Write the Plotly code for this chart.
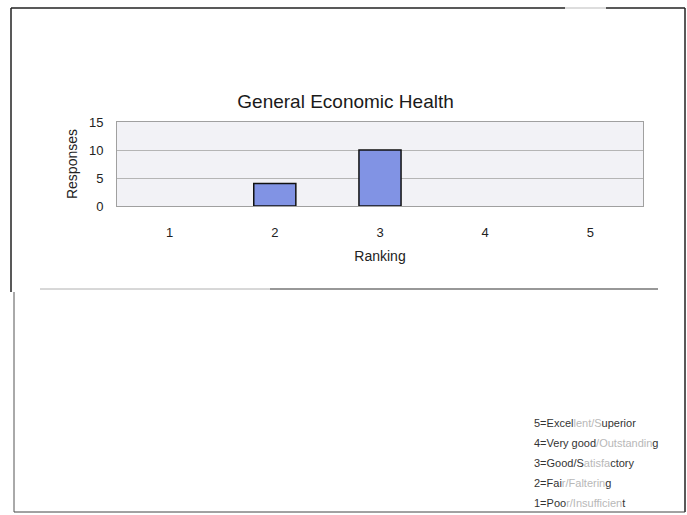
import plotly.graph_objects as go

# Survey results: number of responses per ranking
rankings = ["1", "2", "3", "4", "5"]
responses = [0, 4, 10, 0, 0]
y_ticks = [0, 5, 10, 15]

# Ranking key shown under the chart (dark part, faded part, dark tail)
key_lines = [
    ("5=Excel", "lent/S", "uperior"),
    ("4=Very good", "/Outstandin", "g"),
    ("3=Good/S", "atisfa", "ctory"),
    ("2=Fai", "r/Falterin", "g"),
    ("1=Poo", "r/Insufficien", "t"),
]

W, H = 687, 515
L, R, T, B = 117, 643, 122, 206  # plot area in pixels


def px(x):
    return (x - L) / (R - L)


def py(y):
    return (B - y) / (B - T)


fig = go.Figure(
    go.Bar(
        x=rankings,
        y=responses,
        marker=dict(
            color="#8193E4",
            line=dict(color="#111111", width=[1.5 if v > 0 else 0 for v in responses]),
        ),
        width=0.4,
    )
)

font = "Liberation Sans, Arial, sans-serif"

fig.update_layout(
    width=W,
    height=H,
    margin=dict(l=L, r=W - R, t=T, b=H - B),
    paper_bgcolor="white",
    plot_bgcolor="#F2F2F6",
    showlegend=False,
    font=dict(family=font, color="#222222", size=12),
    title=dict(
        text="General Economic Health",
        x=0.503,
        xref="container",
        y=1 - 101 / H,
        yref="container",
        yanchor="middle",
        xanchor="center",
        font=dict(size=19, color="#1a1a1a"),
    ),
    xaxis=dict(
        type="category",
        showgrid=False,
        showline=True,
        linecolor="#a0a0a0",
        ticks="",
        ticklabelstandoff=14,
        tickfont=dict(size=13),
        title=dict(text="Ranking", font=dict(size=14), standoff=12),
        mirror=True,
    ),
    yaxis=dict(
        range=[0, 15],
        tickvals=y_ticks,
        showgrid=True,
        gridcolor="#b5b5b5",
        gridwidth=1,
        showline=True,
        linecolor="#a0a0a0",
        mirror=True,
        zeroline=False,
        ticks="",
        ticklabelstandoff=10,
        tickfont=dict(size=13),
        title=dict(text="Responses", font=dict(size=14), standoff=8),
    ),
)


def seg(x0, y0, x1, y1, color, width):
    fig.add_shape(
        type="line",
        xref="paper",
        yref="paper",
        x0=px(x0),
        y0=py(y0),
        x1=px(x1),
        y1=py(y1),
        line=dict(color=color, width=width),
    )


# Page frame
seg(11, 8, 565, 8, "#222222", 1.5)
seg(565, 8, 606, 8, "#bbbbbb", 1)
seg(606, 8, 685, 8, "#222222", 1.5)
seg(11, 8, 11, 292, "#222222", 1.5)
seg(14, 292, 14, 512, "#555555", 1)
seg(685, 8, 685, 512, "#222222", 1.5)
seg(14, 512, 685, 512, "#444444", 1)

# Rule under the chart
seg(40, 289, 270, 289, "#b0b0b0", 1)
seg(270, 289, 658, 289, "#333333", 1.2)

# Ranking key
for i, (a, b, c) in enumerate(key_lines):
    fig.add_annotation(
        xref="paper",
        yref="paper",
        x=px(532),
        y=py(423 + i * 20),
        xanchor="left",
        yanchor="middle",
        showarrow=False,
        text=(
            f"<span style='color:#333333'>{a}</span>"
            f"<span style='color:#b8b8b8'>{b}</span>"
            f"<span style='color:#333333'>{c}</span>"
        ),
        font=dict(family="Liberation Sans Narrow, Liberation Sans, sans-serif", size=11),
    )

fig.write_html("out.html")
